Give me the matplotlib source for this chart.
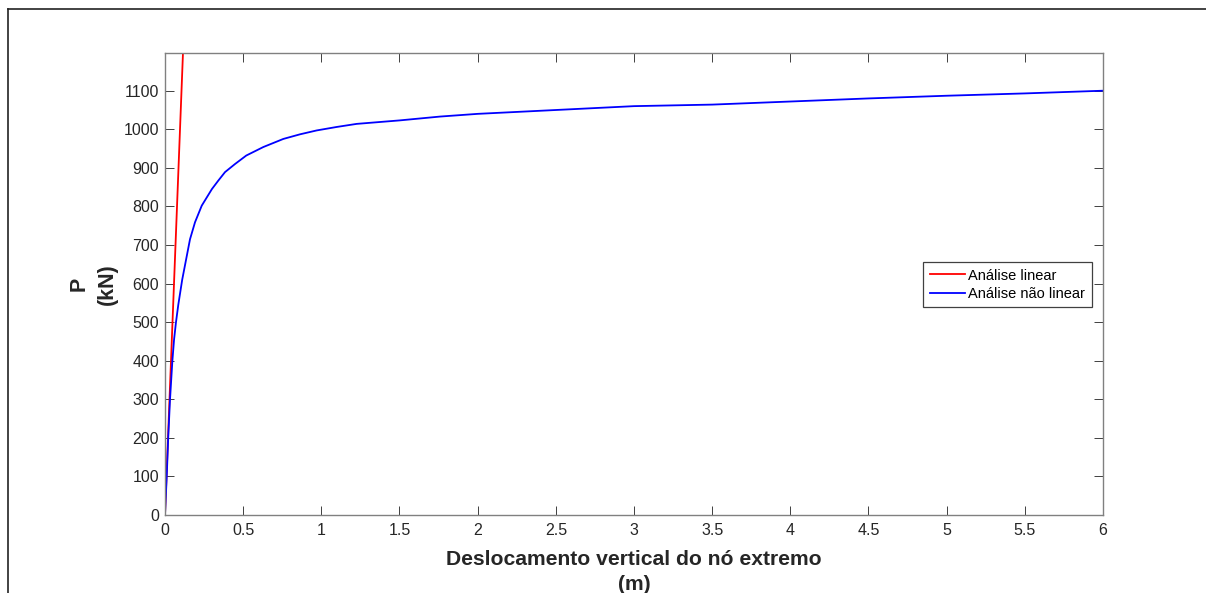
import matplotlib
matplotlib.use("Agg")
import matplotlib.pyplot as plt
from matplotlib.lines import Line2D
import numpy as np

plt.rcParams['font.family'] = ['Liberation Sans', 'DejaVu Sans']

# linear analysis (straight line from origin)
lin_x = [0.0, 0.12]
lin_p = [0.0, 1250.0]

# non linear analysis
nl_x = [0.0, 0.011, 0.021, 0.032, 0.047, 0.058, 0.070, 0.085, 0.11, 0.16, 0.192,
        0.235, 0.30, 0.341, 0.384, 0.448, 0.52, 0.629, 0.757, 0.864, 0.97, 1.098,
        1.226, 1.50, 1.76, 2.0, 2.5, 3.0, 3.5, 4.0, 4.5, 5.0, 5.5, 6.0]
nl_p = [0, 100, 204, 299, 399, 455, 499, 545, 610, 715, 759,
        802, 845, 867, 889, 910, 932, 954, 975, 987, 997, 1006,
        1014, 1023, 1033, 1040, 1050, 1060, 1064, 1072, 1080, 1087, 1093, 1100]

x_ticks = [0, 0.5, 1, 1.5, 2, 2.5, 3, 3.5, 4, 4.5, 5, 5.5, 6]
x_tick_labels = ['0', '0.5', '1', '1.5', '2', '2.5', '3', '3.5', '4', '4.5', '5', '5.5', '6']
y_ticks = [0, 100, 200, 300, 400, 500, 600, 700, 800, 900, 1000, 1100]
y_tick_labels = [str(v) for v in y_ticks]

labels = ['Análise linear', 'Análise não linear']

fig = plt.figure(figsize=(12.06, 5.93), dpi=100)
ax = fig.add_axes([165 / 1206, 78 / 593, 938 / 1206, 461.7 / 593])

ax.plot(lin_x, lin_p, color='#ff0000', lw=1.3, label=labels[0])
ax.plot(nl_x, nl_p, color='#0000ff', lw=1.3, label=labels[1])

ax.set_xlim(0, 6)
ax.set_ylim(0, 1197)
ax.set_xticks(x_ticks)
ax.set_xticklabels(x_tick_labels)
ax.set_yticks(y_ticks)
ax.set_yticklabels(y_tick_labels)

for s in ax.spines.values():
    s.set_color('#808080')
    s.set_linewidth(1.0)
ax.tick_params(direction='in', top=True, right=True, length=6.5, width=0.7,
               color='#404040', labelsize=11.5, labelcolor='#262626')
ax.tick_params(axis='x', pad=5.8)
ax.tick_params(axis='y', pad=4.3)

ax.set_xlabel('Deslocamento vertical do nó extremo\n(m)', fontsize=15.2,
              fontweight='bold', color='#262626', linespacing=1.4)
ax.xaxis.set_label_coords(0.5, -0.075)
ax.set_ylabel('P\n(kN)', fontsize=15.5, fontweight='bold', color='#262626',
              linespacing=1.45, labelpad=4)

leg = ax.legend(loc='upper right', bbox_to_anchor=(0.988, 0.548), borderaxespad=0,
                fontsize=10.5, fancybox=False, framealpha=1, edgecolor='#404040',
                handlelength=2.45, handletextpad=0.2, labelspacing=0.3,
                borderpad=0.45)
leg.get_frame().set_linewidth(0.9)

# figure border (top and left only visible)
fig.add_artist(Line2D([8 / 1206, 1.0], [1 - 9 / 593, 1 - 9 / 593],
                      transform=fig.transFigure, color='#222222', lw=1.2))
fig.add_artist(Line2D([8 / 1206, 8 / 1206], [0.0, 1 - 9 / 593],
                      transform=fig.transFigure, color='#222222', lw=1.2))

fig.savefig('out.png', dpi=100)
